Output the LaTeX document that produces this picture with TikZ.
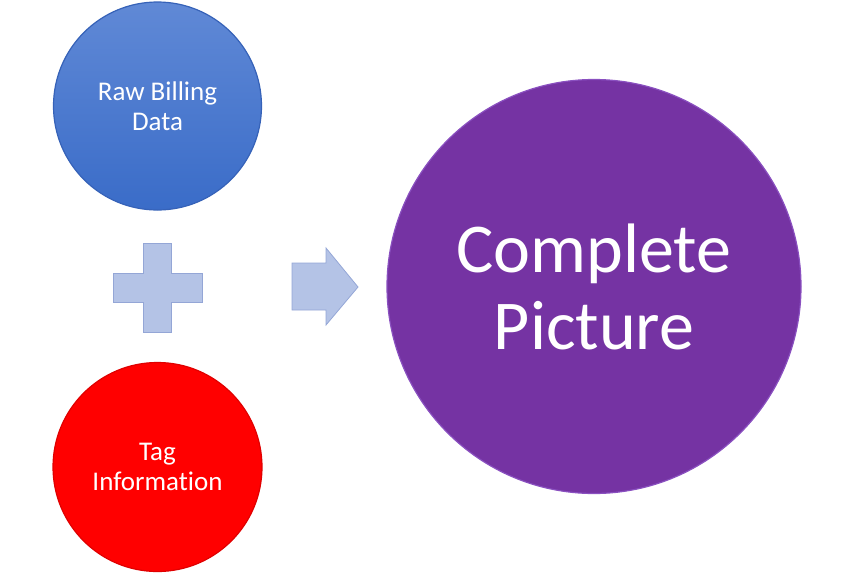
\documentclass[tikz,border=0pt]{standalone}
\usepackage{fontspec}
\setmainfont{Carlito}[Ligatures={NoCommon}]
\usetikzlibrary{shadings}
\definecolor{bluetop}{HTML}{6089D6}
\definecolor{bluebot}{HTML}{3A6CC8}
\definecolor{blueedge}{HTML}{3662B8}
\definecolor{redfill}{HTML}{FF0000}
\definecolor{rededge}{HTML}{E00000}
\definecolor{purplefill}{HTML}{7533A3}
\definecolor{purpleedge}{HTML}{8A50C0}
\definecolor{symfill}{HTML}{B4C3E6}
\definecolor{symedge}{HTML}{94A6D6}
\tikzset{
  disc/.style={circle, inner sep=0pt, align=center, text=white, line width=1.2pt},
  smalltext/.style={font=\fontsize{27}{29.7}\selectfont},
  bigtext/.style={font=\fontsize{70}{77}\selectfont},
  symbol/.style={fill=symfill, draw=symedge, line width=0.8pt, line join=miter}
}
\begin{document}
\begin{tikzpicture}[x=1pt,y=-1pt]
\useasboundingbox (0,0) rectangle (854,574);
% blue circle
\node[disc, smalltext, minimum size=208pt, top color=bluetop, bottom color=bluebot, draw=blueedge]
  (raw) at (157.5,106) {Raw Billing\\Data};
% red circle
\node[disc, smalltext, minimum size=209pt, fill=redfill, draw=rededge]
  (tag) at (157.5,467) {Tag\\Information};
% purple circle
\node[disc, bigtext, minimum size=414pt, fill=purplefill, draw=purpleedge]
  (pic) at (594,286.5) {Complete\\Picture};
% plus sign
\draw[symbol] (143,243) -- (171,243) -- (171,273) -- (202,273) -- (202,302) -- (171,302)
  -- (171,332) -- (143,332) -- (143,302) -- (113,302) -- (113,273) -- (143,273) -- cycle;
% arrow
\draw[symbol] (292,263) -- (326,263) -- (326,248) -- (358,287) -- (326,325) -- (326,310)
  -- (292,310) -- cycle;
\end{tikzpicture}
\end{document}
